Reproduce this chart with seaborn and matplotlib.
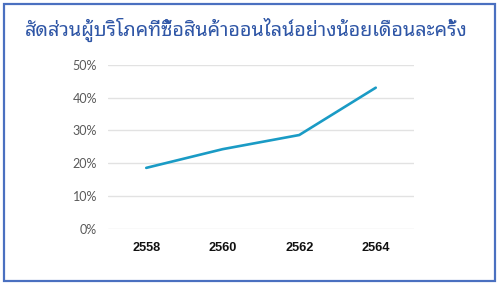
import matplotlib
matplotlib.use("Agg")
import matplotlib.pyplot as plt
import seaborn as sns
import pandas as pd
from matplotlib.patches import Rectangle
from matplotlib.ticker import PercentFormatter

title = "สัดส่วนผู้บริโภคที่ซื้อสินค้าออนไลน์อย่างน้อยเดือนละครั้ง"
years = ["2558", "2560", "2562", "2564"]
shares = [0.186, 0.243, 0.286, 0.430]
y_ticks = [0, 0.1, 0.2, 0.3, 0.4, 0.5]

sns.set_theme(style="white")
plt.rcParams["font.family"] = ["Lato", "DejaVu Sans"]

df = pd.DataFrame({"year": years, "share": shares})

fig = plt.figure(figsize=(5, 2.85), dpi=100)
ax = fig.add_axes([0.216, 0.1965, 0.612, 0.5765])
sns.lineplot(data=df, x="year", y="share", ax=ax, color="#1a9bc5", linewidth=1.9)
ax.set_xlim(-0.5, 3.5)
ax.set_ylim(0, 0.5)
ax.set_yticks(y_ticks)
ax.yaxis.set_major_formatter(PercentFormatter(1.0, decimals=0))
ax.grid(axis="y", color="#e2e2e2", linewidth=1.0)
ax.set_axisbelow(True)
for s in ax.spines.values():
    s.set_visible(False)
ax.set_xlabel("")
ax.set_ylabel("")
ax.tick_params(axis="y", length=0, pad=8, labelsize=9, labelcolor="#595959")
ax.tick_params(axis="x", length=0, pad=9.5)
for lab in ax.get_xticklabels():
    lab.set_fontfamily(["Liberation Sans", "DejaVu Sans"])
    lab.set_fontweight("bold")
    lab.set_fontsize(9.2)
    lab.set_color("#111111")

fig.text(0.492, 0.895, title, ha="center", va="center", fontsize=14.2,
         color="#2f56a6", family=["Noto Sans Thai Looped", "DejaVu Sans"])

fig.patches.append(Rectangle((4 / 500, 4 / 285), 491 / 500, 277 / 285,
                             transform=fig.transFigure, fill=False,
                             edgecolor="#4a70c0", linewidth=1.6))
fig.savefig("out.png", dpi=100)
